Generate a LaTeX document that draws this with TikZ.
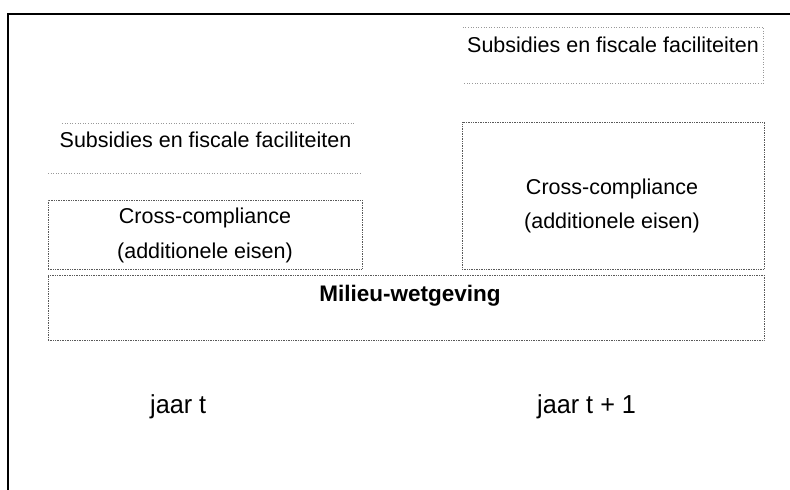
\documentclass[tikz,border=0pt]{standalone}
\usepackage{fontspec}
\setmainfont{Liberation Sans}
\newfontfamily\narrowfont[FakeStretch=0.97]{Liberation Sans}
\begin{document}
\begin{tikzpicture}[x=1pt,y=-1pt,
  box/.style={draw=black!65, densely dotted, line width=0.7pt, inner sep=0pt},
  faint/.style={draw=black!40, dotted, line width=0.6pt},
  lbl/.style={font=\fontsize{21.5}{26}\selectfont, inner sep=0pt, anchor=base},
  boldlbl/.style={font=\fontsize{22.5}{26}\selectfont\bfseries, inner sep=0pt, anchor=base},
  yearlbl/.style={font=\narrowfont\fontsize{26}{30}\selectfont, inner sep=0pt, anchor=base west},
  frame/.style={draw=black, line width=1.6pt}]
\useasboundingbox (0,0) rectangle (790,490);
% outer frame
\draw[frame] (8,490) -- (8,14) -- (790,14);
% left column
\node[box, minimum width=314pt, minimum height=69pt] (ccL) at (205,234.5) {};
\node[lbl] (ccLa) at (205,223) {Cross-compliance};
\node[lbl] (ccLb) at (205,258) {(additionele eisen)};
\draw[faint] (62,123) -- (355,123);
\draw[faint] (48,173) -- (362,173);
\node[lbl] (subL) at (205.5,147) {Subsidies en fiscale faciliteiten};
% right column
\node[inner sep=0pt, minimum width=300pt, minimum height=56pt] (subR) at (613,55) {};
\draw[faint] (subR.north west) -- (subR.north east) -- (subR.south east) -- (subR.south west);
\node[lbl] (subRt) at (613,52) {Subsidies en fiscale faciliteiten};
\node[box, minimum width=302pt, minimum height=147pt] (ccR) at (613,195.5) {};
\node[lbl] (ccRa) at (612,194) {Cross-compliance};
\node[lbl] (ccRb) at (612,228) {(additionele eisen)};
% base
\node[box, minimum width=716pt, minimum height=65pt] (mil) at (406,307.5) {};
\node[boldlbl] (milt) at (410,301) {Milieu-wetgeving};
% years
\node[yearlbl] (yt) at (150,413) {jaar t};
\node[yearlbl] (yt1) at (537,413) {jaar t + 1};
\end{tikzpicture}
\end{document}
